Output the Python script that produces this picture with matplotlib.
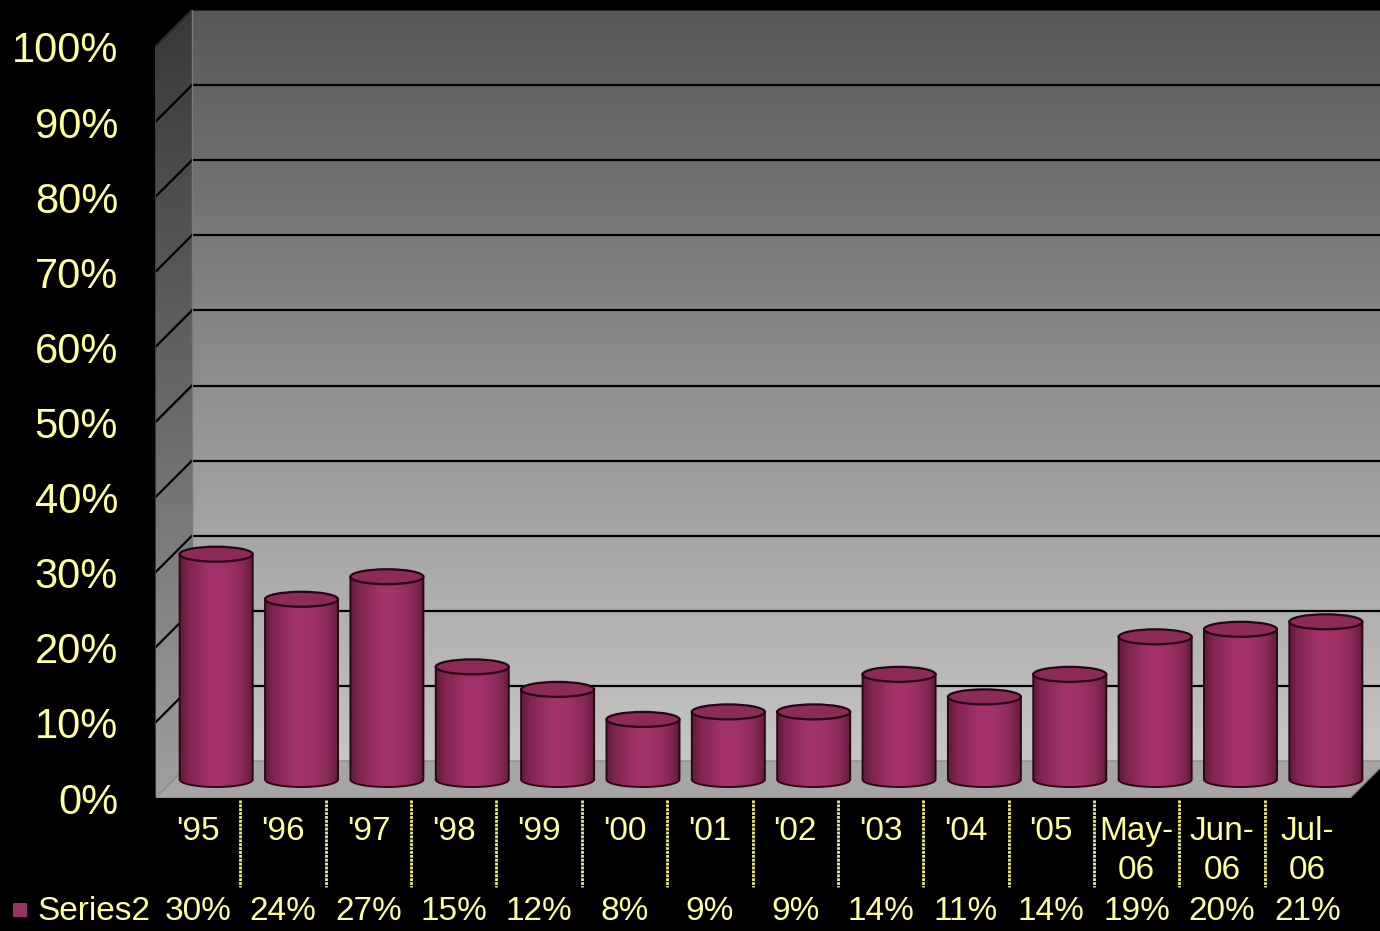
import numpy as np
import matplotlib
matplotlib.use('Agg')
import matplotlib.pyplot as plt
from matplotlib.patches import Polygon, Ellipse, Rectangle
from matplotlib.colors import LinearSegmentedColormap

# ---------------- data ----------------
categories = ["'95", "'96", "'97", "'98", "'99", "'00", "'01", "'02", "'03",
              "'04", "'05", "May-\n06", "Jun-\n06", "Jul-\n06"]
values = [30, 24, 27, 15, 12, 8, 9, 9, 14, 11, 14, 19, 20, 21]
table_labels = ["30%", "24%", "27%", "15%", "12%", "8%", "9%", "9%", "14%",
                "11%", "14%", "19%", "20%", "21%"]
series_name = "Series2"
y_ticks = [0, 10, 20, 30, 40, 50, 60, 70, 80, 90, 100]
y_tick_labels = ["0%", "10%", "20%", "30%", "40%", "50%", "60%", "70%",
                 "80%", "90%", "100%"]

plt.rcParams['font.family'] = ['Liberation Sans', 'DejaVu Sans']
TXT = '#FFFF99'
BAR = '#993366'

W, H = 1380, 931
fig = plt.figure(figsize=(W / 100, H / 100), dpi=100, facecolor='black')
left_px, right_px, top_px, bottom_px = 155, 1380, 10, 798
ax = fig.add_axes([left_px / W, (H - bottom_px) / H,
                   (right_px - left_px) / W, (bottom_px - top_px) / H])
ax.set_facecolor('black')
for s in ax.spines.values():
    s.set_visible(False)

n = len(categories)
slot_px = 85.36
unit_px = 7.51
depth_x = 37 / slot_px
depth_y = 37 / unit_px
xmax = (right_px - left_px) / slot_px
ymax = 100 + depth_y

# ---------------- walls ----------------
wall_cmap = LinearSegmentedColormap.from_list('wall', ['#c6c6c6', '#8f8f8f', '#585858'])
grad_v = np.linspace(0, 1, 256).reshape(-1, 1)
ax.imshow(grad_v, extent=(depth_x, xmax + 0.5, depth_y, ymax), origin='lower',
          cmap=wall_cmap, aspect='auto', zorder=0, interpolation='bilinear')

side_cmap = LinearSegmentedColormap.from_list('side', ['#a0a0a0', '#686868', '#383838'])
side_poly = Polygon([(0, 0), (depth_x, depth_y), (depth_x, ymax), (0, 100)],
                    closed=True, transform=ax.transData, fc='none', ec='none')
ax.add_patch(side_poly)
im = ax.imshow(grad_v, extent=(0, depth_x, 0, ymax), origin='lower',
               cmap=side_cmap, aspect='auto', zorder=1, interpolation='bilinear')
im.set_clip_path(side_poly)

floor = Polygon([(0, 0), (n, 0), (n + depth_x, depth_y), (depth_x, depth_y)],
                closed=True, fc='#a5a5a5', ec='#8a8a8a', lw=1.0, zorder=1.5)
ax.add_patch(floor)

# gridlines
for t in y_ticks[1:]:
    lc = 'black' if t < 100 else '#2a2a2a'
    ax.plot([depth_x, xmax + 0.5], [t + depth_y, t + depth_y], color=lc, lw=1.6, zorder=2)
    ax.plot([0, depth_x], [t, t + depth_y], color=lc, lw=1.6, zorder=2)
ax.plot([0, 0], [0, 100], color='#3c3c3c', lw=1.5, zorder=2)
ax.plot([depth_x, depth_x], [depth_y, ymax], color='#7a7a7a', lw=1.0, zorder=2)

# ---------------- cylinders ----------------
body_cmap = LinearSegmentedColormap.from_list(
    'cyl', [(0, '#5e1a3b'), (0.12, '#802551'), (0.42, '#a3336a'),
            (0.62, '#a13268'), (0.86, '#8a2a58'), (1, '#621c3e')])
grad_h = np.linspace(0, 1, 256).reshape(1, -1)
bar_w = 73 / slot_px
eh = 7.5 / unit_px
theta = np.linspace(np.pi, 2 * np.pi, 80)
for i, v in enumerate(values):
    cx = i + 0.5 + depth_x / 2
    base = depth_y / 2
    top = base + v
    x0, x1 = cx - bar_w / 2, cx + bar_w / 2
    arc = [(cx + bar_w / 2 * np.cos(t), base + eh * np.sin(t)) for t in theta]
    verts = [(x0, top)] + arc + [(x1, top)]
    body = Polygon(verts, closed=True, fc='none', ec='#2a0816', lw=1.4, zorder=4)
    ax.add_patch(body)
    bim = ax.imshow(grad_h, extent=(x0, x1, base - eh, top), cmap=body_cmap,
                    aspect='auto', zorder=3, interpolation='bilinear')
    bim.set_clip_path(body)
    ax.add_patch(Ellipse((cx, top), bar_w, 2 * eh, fc='#8c2b58', ec='#240713',
                         lw=1.6, zorder=5))

ax.set_xlim(0, xmax)
ax.set_ylim(0, ymax)

# ---------------- axes text ----------------
ax.set_yticks(y_ticks, y_tick_labels)
ax.tick_params(axis='y', length=0, pad=26.6, labelsize=30, labelcolor=TXT)
ax.set_xticks([i + 0.5 for i in range(n)], categories)
ax.tick_params(axis='x', length=0, pad=13, labelsize=24, labelcolor=TXT)
for lbl in ax.get_xticklabels():
    lbl.set_linespacing(1.34)

ax_h = bottom_px - top_px
xt = ax.get_xaxis_transform()
for i in range(1, n):
    ax.plot([i, i], [(bottom_px - 800) / ax_h, (bottom_px - 887) / ax_h],
            transform=xt, clip_on=False, color='#f0f080', lw=2.0,
            linestyle=(0, (1, 0.4)), zorder=6)

row_y = (bottom_px - 920) / ax_h
for i, lab in enumerate(table_labels):
    ax.text(i + 0.5, row_y, lab, transform=xt, ha='center', va='baseline',
            fontsize=24, color=TXT, clip_on=False)

fig.text(37 / W, (H - 920) / H, series_name, ha='left', va='baseline',
         fontsize=24, color=TXT)
fig.patches.append(Rectangle((13 / W, (H - 917) / H), 14 / W, 14 / H,
                             transform=fig.transFigure, fc=BAR, ec='none'))

fig.savefig('out.png', dpi=100, facecolor='black')
